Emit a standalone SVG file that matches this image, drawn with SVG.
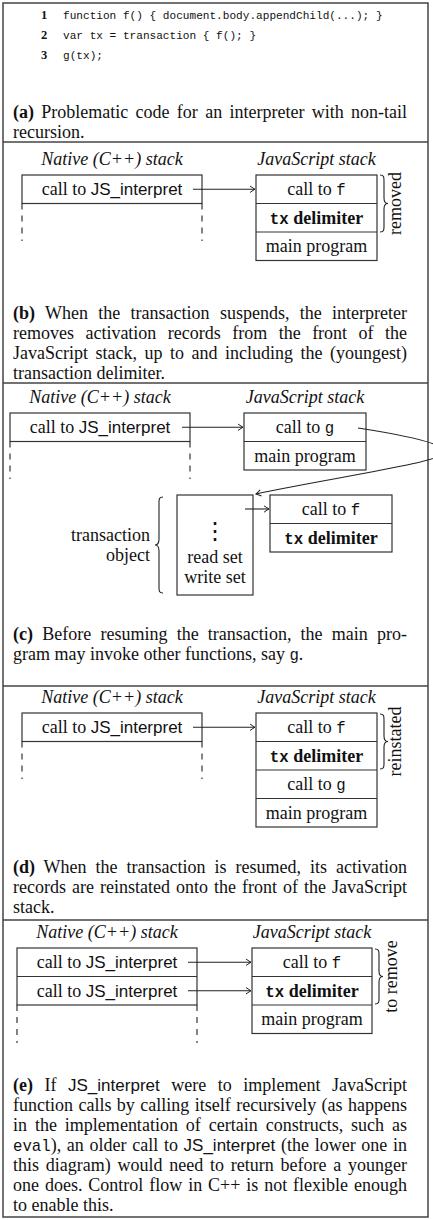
<svg xmlns="http://www.w3.org/2000/svg" width="433" height="1220" viewBox="0 0 433 1220">
<style>
.frame{fill:none;stroke:#444;stroke-width:1.5}
.sep{stroke:#444;stroke-width:1.5}
.box{fill:#fff;stroke:#333;stroke-width:1.2}
.ln{stroke:#333;stroke-width:1.2}
.dash{stroke:#333;stroke-width:1.2;stroke-dasharray:6 6}
.conn{fill:none;stroke:#222;stroke-width:1.1;marker-end:url(#ah)}
.brace{fill:none;stroke:#222;stroke-width:1.1}
text{fill:#111}
.ser{font-family:"Liberation Serif","Times New Roman",serif;font-size:18px}
.it{font-style:italic}
.sans{font-family:"Liberation Sans",Arial,sans-serif;font-size:17px}
.mono{font-family:"Liberation Mono","Courier New",monospace;font-size:15.7px}
.c{text-anchor:middle}
.e{text-anchor:end}
.b{font-weight:bold}
.code{font-family:"Liberation Mono","Courier New",monospace;font-size:11.1px}
.num{font-family:"Liberation Serif",serif;font-size:12.5px;font-weight:bold}
</style>
<defs>
<marker id="ah" viewBox="-6 -4 8 8" refX="0" refY="0" markerWidth="8" markerHeight="8" orient="auto" markerUnits="userSpaceOnUse">
<path d="M-5,-3.2 Q-1.5,-0.8 0,0 Q-1.5,0.8 -5,3.2" fill="none" stroke="#222" stroke-width="1"/>
</marker>
</defs>
<rect fill="#fff" x="0" y="0" width="433" height="1220"/>
<g id="frame">
<rect class="frame" x="3" y="3" width="425" height="1214"/>
<line class="sep" x1="3" y1="142" x2="428" y2="142"/>
<line class="sep" x1="3" y1="383" x2="428" y2="383"/>
<line class="sep" x1="3" y1="686" x2="428" y2="686"/>
<line class="sep" x1="3" y1="920" x2="428" y2="920"/>
</g>

<g id="panel-a-code">
<text class="num c" x="44" y="19">1</text><text class="code" x="63" y="19">function f() { document.body.appendChild(...); }</text>
<text class="num c" x="44" y="39">2</text><text class="code" x="63" y="39">var tx = transaction { f(); }</text>
<text class="num c" x="44" y="59">3</text><text class="code" x="63" y="59">g(tx);</text>
</g>
<g id="caption-a">
<text class="ser" x="13" y="118" textLength="394" lengthAdjust="spacing" word-spacing="2.9"><tspan class="b">(a)</tspan> Problematic code for an interpreter with non-tail</text>
<text class="ser" x="13" y="138">recursion.</text>
</g>

<!-- panel b -->
<g id="b-native-title"><text class="ser it c" x="112" y="165">Native (C++) stack</text></g>
<g id="b-js-title"><text class="ser it c" x="316.5" y="165">JavaScript stack</text></g>
<g id="b-native">
<rect class="box" x="22" y="175" width="180" height="28.5"/>
<line class="dash" x1="22" y1="203.5" x2="22" y2="241"/>
<line class="dash" x1="202" y1="203.5" x2="202" y2="241"/>
<text class="ser c" x="112" y="195">call to <tspan class="sans">JS_interpret</tspan></text>
</g>
<g id="b-js">
<rect class="box" x="256" y="175" width="121" height="85.5"/>
<line class="ln" x1="256" y1="203.5" x2="377" y2="203.5"/>
<line class="ln" x1="256" y1="232" x2="377" y2="232"/>
<text class="ser c" x="316.5" y="195">call to <tspan class="mono">f</tspan></text>
<text class="ser c b" x="316.5" y="223.5"><tspan class="mono">tx</tspan> delimiter</text>
<text class="ser c" x="316.5" y="252">main program</text>
</g>
<g id="b-removed">
<path class="brace" d="M380,175 C384,175 384,177 384,181 L384,198 C384,201.5 385,203.5 388,203.5 C385,203.5 384,205.5 384,209 L384,226 C384,230 384,232 380,232"/>
<text class="ser c" transform="translate(401,203.5) rotate(-90)">removed</text>
</g>
<g id="caption-b">
<text class="ser" x="13" y="319" textLength="394" lengthAdjust="spacing" word-spacing="5.8"><tspan class="b">(b)</tspan> When the transaction suspends, the interpreter</text>
<text class="ser" x="13" y="339" textLength="394" lengthAdjust="spacing" word-spacing="7">removes activation records from the front of the</text>
<text class="ser" x="13" y="359" textLength="394" lengthAdjust="spacing" word-spacing="3">JavaScript stack, up to and including the (youngest)</text>
<text class="ser" x="13" y="379">transaction delimiter.</text>
</g>

<!-- panel c -->
<g id="c-native-title"><text class="ser it c" x="100" y="403">Native (C++) stack</text></g>
<g id="c-js-title"><text class="ser it c" x="305" y="403">JavaScript stack</text></g>
<g id="c-native">
<rect class="box" x="10" y="413" width="180" height="28.5"/>
<line class="dash" x1="10" y1="441.5" x2="10" y2="479"/>
<line class="dash" x1="190" y1="441.5" x2="190" y2="479"/>
<text class="ser c" x="100" y="433">call to <tspan class="sans">JS_interpret</tspan></text>
</g>
<g id="c-js">
<rect class="box" x="244" y="413" width="122" height="57"/>
<line class="ln" x1="244" y1="441.5" x2="366" y2="441.5"/>
<text class="ser c" x="305" y="433">call to <tspan class="mono">g</tspan></text>
<text class="ser c" x="305" y="461.5">main program</text>
</g>
<g id="c-txobj">
<rect class="box" x="177" y="495" width="76" height="100"/>
<text class="c" x="215" y="539" style="font-family:'DejaVu Serif',serif;font-size:24px">⋮</text>
<text class="ser c" x="215" y="563">read set</text>
<text class="ser c" x="215" y="583">write set</text>
</g>
<g id="c-txlabel">
<path class="brace" d="M163,497 C159,497 159,499 159,503 L159,539 C159,543 158,545 155,545 C158,545 159,547 159,551 L159,587 C159,591 159,593 163,593"/>
<text class="ser e" x="150" y="541">transaction</text>
<text class="ser e" x="150" y="561">object</text>
</g>
<g id="c-suspended">
<rect class="box" x="270" y="495" width="122" height="57"/>
<line class="ln" x1="270" y1="523.5" x2="392" y2="523.5"/>
<text class="ser c" x="331" y="515">call to <tspan class="mono">f</tspan></text>
<text class="ser c b" x="331" y="543.5"><tspan class="mono">tx</tspan> delimiter</text>
</g>
<g id="caption-c">
<text class="ser" x="13" y="640" textLength="394" lengthAdjust="spacing" word-spacing="4.7"><tspan class="b">(c)</tspan> Before resuming the transaction, the main pro-</text>
<text class="ser" x="13" y="660">gram may invoke other functions, say <tspan class="mono">g</tspan>.</text>
</g>

<!-- panel d -->
<g id="d-native-title"><text class="ser it c" x="112" y="703">Native (C++) stack</text></g>
<g id="d-js-title"><text class="ser it c" x="316.5" y="703">JavaScript stack</text></g>
<g id="d-native">
<rect class="box" x="22" y="713" width="180" height="28.5"/>
<line class="dash" x1="22" y1="741.5" x2="22" y2="779"/>
<line class="dash" x1="202" y1="741.5" x2="202" y2="779"/>
<text class="ser c" x="112" y="733">call to <tspan class="sans">JS_interpret</tspan></text>
</g>
<g id="d-js">
<rect class="box" x="256" y="713" width="121" height="114"/>
<line class="ln" x1="256" y1="741.5" x2="377" y2="741.5"/>
<line class="ln" x1="256" y1="770" x2="377" y2="770"/>
<line class="ln" x1="256" y1="798.5" x2="377" y2="798.5"/>
<text class="ser c" x="316.5" y="733">call to <tspan class="mono">f</tspan></text>
<text class="ser c b" x="316.5" y="761.5"><tspan class="mono">tx</tspan> delimiter</text>
<text class="ser c" x="316.5" y="790">call to <tspan class="mono">g</tspan></text>
<text class="ser c" x="316.5" y="818.5">main program</text>
</g>
<g id="d-reinstated">
<path class="brace" d="M380,714 C384,714 384,716 384,720 L384,736 C384,739.5 385,741.5 388,741.5 C385,741.5 384,743.5 384,747 L384,763 C384,767 384,769 380,769"/>
<text class="ser c" transform="translate(401,741.5) rotate(-90)">reinstated</text>
</g>
<g id="caption-d">
<text class="ser" x="13" y="873" textLength="394" lengthAdjust="spacing" word-spacing="4.4"><tspan class="b">(d)</tspan> When the transaction is resumed, its activation</text>
<text class="ser" x="13" y="893" textLength="394" lengthAdjust="spacing" word-spacing="1.6">records are reinstated onto the front of the JavaScript</text>
<text class="ser" x="13" y="913">stack.</text>
</g>

<!-- panel e -->
<g id="e-native-title"><text class="ser it c" x="107" y="938">Native (C++) stack</text></g>
<g id="e-js-title"><text class="ser it c" x="312" y="938">JavaScript stack</text></g>
<g id="e-native">
<rect class="box" x="17" y="948" width="180" height="57"/>
<line class="ln" x1="17" y1="976.5" x2="197" y2="976.5"/>
<line class="dash" x1="17" y1="1005" x2="17" y2="1043"/>
<line class="dash" x1="197" y1="1005" x2="197" y2="1043"/>
<text class="ser c" x="107" y="968">call to <tspan class="sans">JS_interpret</tspan></text>
<text class="ser c" x="107" y="996.5">call to <tspan class="sans">JS_interpret</tspan></text>
</g>
<g id="e-js">
<rect class="box" x="252" y="948" width="120" height="85.5"/>
<line class="ln" x1="252" y1="976.5" x2="372" y2="976.5"/>
<line class="ln" x1="252" y1="1005" x2="372" y2="1005"/>
<text class="ser c" x="312" y="968">call to <tspan class="mono">f</tspan></text>
<text class="ser c b" x="312" y="996.5"><tspan class="mono">tx</tspan> delimiter</text>
<text class="ser c" x="312" y="1025">main program</text>
</g>
<g id="e-toremove">
<path class="brace" d="M375,949 C379,949 379,951 379,955 L379,971 C379,974.5 380,976.5 383,976.5 C380,976.5 379,978.5 379,982 L379,998 C379,1002 379,1004 375,1004"/>
<text class="ser c" transform="translate(397,976.5) rotate(-90)">to remove</text>
</g>
<g id="caption-e">
<text class="ser" x="13" y="1091" textLength="394" lengthAdjust="spacing" word-spacing="7"><tspan class="b">(e)</tspan> If <tspan class="sans">JS_interpret</tspan> were to implement JavaScript</text>
<text class="ser" x="13" y="1111" textLength="394" lengthAdjust="spacing" word-spacing="1">function calls by calling itself recursively (as happens</text>
<text class="ser" x="13" y="1131" textLength="394" lengthAdjust="spacing" word-spacing="3.4">in the implementation of certain constructs, such as</text>
<text class="ser" x="13" y="1151" textLength="394" lengthAdjust="spacing" word-spacing="1.2"><tspan class="mono">eval</tspan>), an older call to <tspan class="sans">JS_interpret</tspan> (the lower one in</text>
<text class="ser" x="13" y="1171" textLength="394" lengthAdjust="spacing" word-spacing="2.3">this diagram) would need to return before a younger</text>
<text class="ser" x="13" y="1191" textLength="394" lengthAdjust="spacing" word-spacing="1.4">one does. Control flow in C++ is not flexible enough</text>
<text class="ser" x="13" y="1211">to enable this.</text>
</g>

<g id="connectors">
<path class="conn" d="M193,189.25 L255,189.25"/>
<path class="conn" d="M182,427.25 L243,427.25"/>
<path class="conn" d="M358,428 C410,436 445,444 445,452 C445,462 330,478 256,494"/>
<path class="conn" d="M245,509 L269,509"/>
<path class="conn" d="M193,727.25 L255,727.25"/>
<path class="conn" d="M188,962.25 L251,962.25"/>
<path class="conn" d="M188,990.75 L251,990.75"/>
</g>
</svg>
